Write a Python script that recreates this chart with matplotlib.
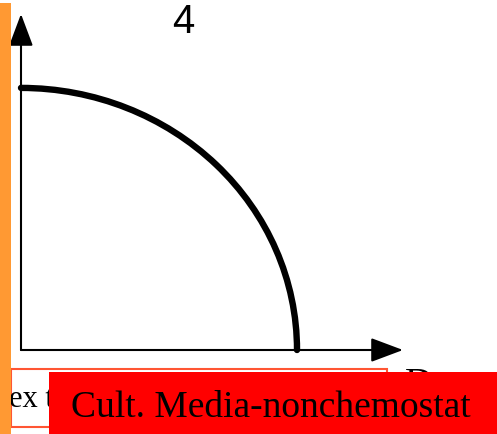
import matplotlib
matplotlib.use("Agg")
import matplotlib.pyplot as plt
from matplotlib.patches import Arc, Rectangle

W, H = 497, 434

# quarter curve: where it meets each axis (data units)
curve_x_intercept = 1.0
curve_y_intercept = 1.0
# length of the arrowed axes (data units)
axis_x_end = 1.384
axis_y_end = 1.282

panel_label = "4"
x_axis_label = "D"
box_text = "ex t"
banner_text = "Cult. Media-nonchemostat"

SERIF = ["Liberation Serif", "DejaVu Serif"]


def fx(px):
    return px / W


def fy(py):
    return 1 - py / H


fig = plt.figure(figsize=(W / 100, H / 100), dpi=100)
fig.patch.set_facecolor("white")

ax = fig.add_axes([fx(21), fy(350), fx(403) - fx(21), fy(14) - fy(350)])
ax.set_xlim(0, axis_x_end)
ax.set_ylim(0, axis_y_end)
ax.axis("off")

arrow = dict(arrowstyle="-|>,head_length=2.0,head_width=0.75", lw=1.5,
             color="black", shrinkA=0, shrinkB=0, mutation_scale=10)
ax.annotate("", xy=(axis_x_end, 0), xytext=(0, 0), arrowprops=arrow,
            annotation_clip=False)
ax.annotate("", xy=(0, axis_y_end), xytext=(0, 0), arrowprops=arrow,
            annotation_clip=False)

curve = Arc((0, 0), 2 * curve_x_intercept, 2 * curve_y_intercept,
            theta1=0, theta2=90, lw=4.6, color="black", capstyle="round",
            clip_on=False, zorder=3)
ax.add_patch(curve)

fig.text(fx(183), fy(22), panel_label, ha="center", va="center",
         fontsize=29, family="Liberation Sans", fontweight="light")
fig.text(fx(405), fy(367), x_axis_label, ha="left", va="top",
         fontsize=28, family=SERIF)

# white box with orange-red border at the bottom
fig.add_artist(Rectangle((fx(11), fy(427)), fx(387) - fx(11), (427 - 369) / H,
                         transform=fig.transFigure, facecolor="white",
                         edgecolor="#ff5533", lw=1.5, zorder=5))
fig.text(fx(9), fy(407), box_text, ha="left", va="baseline",
         fontsize=22, family=SERIF, zorder=6)

# red banner
fig.add_artist(Rectangle((fx(49), 0), 1 - fx(49), (434 - 372) / H,
                         transform=fig.transFigure, facecolor="#ff0000",
                         edgecolor="none", zorder=7))
fig.text(fx(71), fy(417), banner_text, ha="left", va="baseline",
         fontsize=27, family=SERIF, zorder=8)

# orange strip on the left
fig.add_artist(Rectangle((0, 0), fx(11), fy(3), transform=fig.transFigure,
                         facecolor="#ff9933", edgecolor="none", zorder=9))

fig.savefig("out.png", dpi=100)
